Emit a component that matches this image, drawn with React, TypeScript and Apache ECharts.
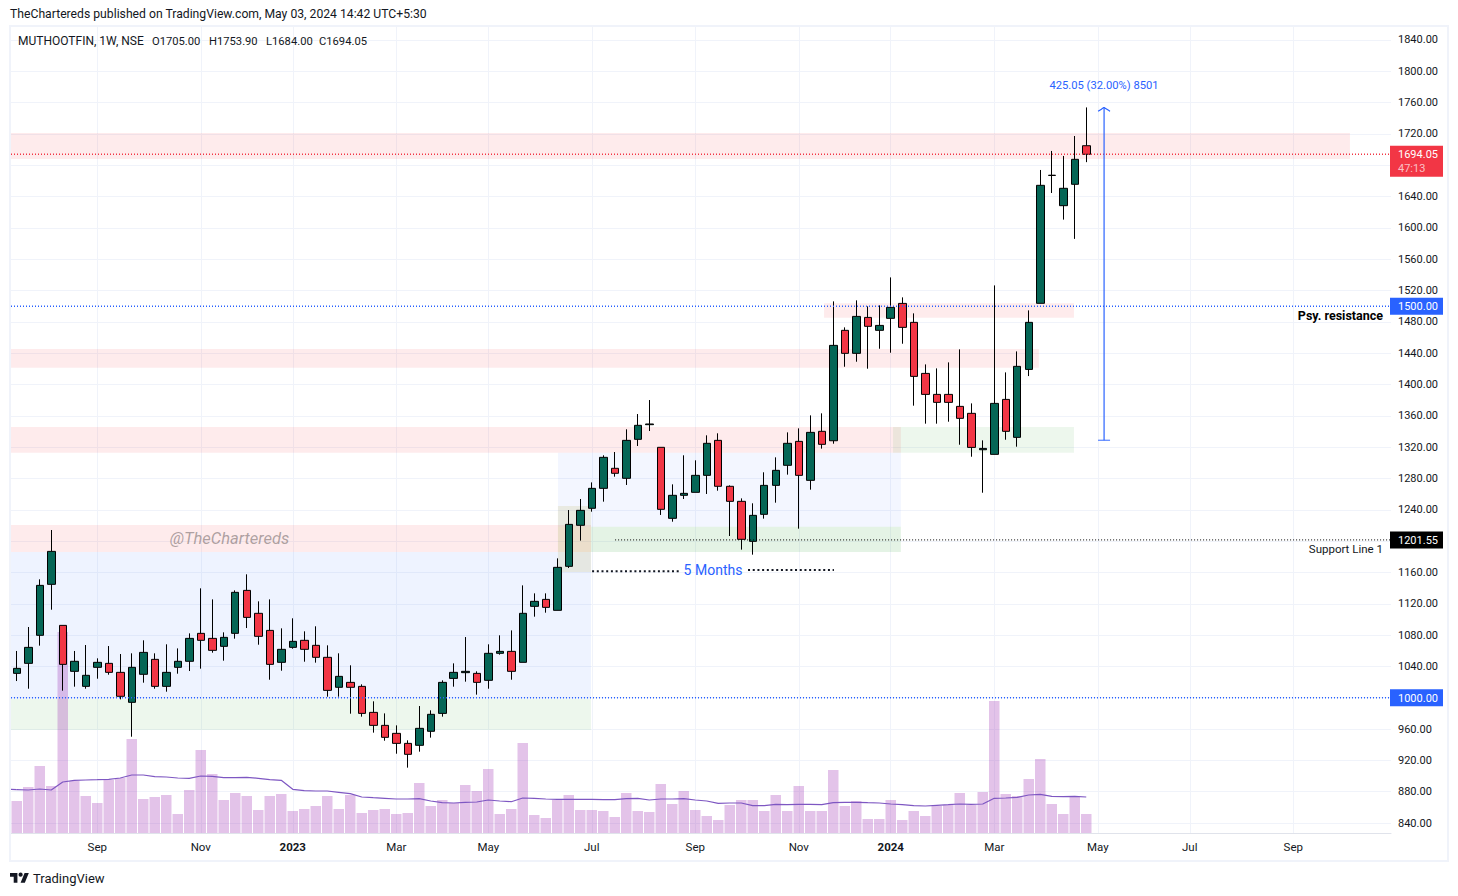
import * as echarts from 'echarts';
import { useEffect, useRef } from 'react';

const FONT = 'Roboto, "Liberation Sans", sans-serif';
const UP = '#056656';
const DOWN = '#f23645';
const BLUE = '#2962ff';
const GRID_LINE = '#f0f3fa';

// week by week
const opens = [
  1031.1, 1043.9, 1079.7, 1144.8, 1092.4, 1033.7, 1014.5, 1038.8, 1043.9, 1032.4, 994.1, 1029.9, 1049, 1014.5, 1038.8, 1046.5,
  1082.2, 1075.8, 1065.6, 1082.2, 1137.1, 1107.8, 1086, 1045.2, 1064.3, 1073.3, 1066.9, 1051.6, 1013.3, 1019.6, 1014.5, 981.3,
  964.7, 954.5, 941.7, 939.2, 957.1, 980, 1024.7, 1032, 1031.1, 1022.2, 1056.7, 1059.2, 1045.2, 1116.7, 1125.6, 1111.6,
  1167.8, 1220.2, 1241.9, 1267.4, 1293, 1280.2, 1330, 1348.7, 1319.8, 1229.1, 1258.5, 1262.3, 1284, 1328.7, 1270, 1250.8,
  1199.7, 1234.2, 1271.2, 1296.8, 1327.4, 1277.6, 1340.2, 1328.2, 1469.2, 1439.8, 1485.7, 1469.2, 1484.5, 1503.6, 1479.4, 1414.2,
  1387.4, 1387.4, 1372.1, 1363.2, 1316.7, 1310.8, 1381, 1332.5, 1419.3, 1503.7, 1667, 1628.4, 1655.7, 1705,
];
const closes = [
  1037.5, 1064.3, 1143.5, 1186.9, 1042.6, 1046.5, 1028.6, 1045.2, 1032.4, 1001.8, 1038.8, 1057.9, 1014.5, 1032.4, 1046.5, 1075.8,
  1073.3, 1060.5, 1077.1, 1134.6, 1102.6, 1078.4, 1042.6, 1061.8, 1072, 1061.8, 1051.6, 1009.4, 1027.3, 1013.3, 980, 964.7,
  949.4, 941.7, 927.7, 960.9, 978.8, 1019.6, 1032.4, 1033.7, 1019.6, 1056.7, 1059.2, 1033.7, 1107.8, 1123.1, 1115.4, 1166.5,
  1221.4, 1239.3, 1267.4, 1307, 1286.6, 1328.7, 1347.9, 1349.6, 1240.6, 1258.5, 1261, 1284, 1324.9, 1270, 1250.8, 1202.3,
  1232.9, 1271.2, 1290.4, 1324.9, 1284, 1338.9, 1323.6, 1450, 1439.8, 1487, 1474.3, 1475.5, 1498.5, 1473, 1410.4, 1387.4,
  1377.2, 1377.2, 1356.8, 1319.7, 1318.4, 1375.9, 1340.2, 1423.2, 1479.4, 1654.4, 1667.3, 1650.6, 1687.6, 1694.05,
];
const lows = [
  1021.3, 1011.5, 1066.5, 1112.4, 1009, 1014.1, 1011.5, 1024.3, 1029.4, 997.9, 950.2, 1019.2, 1011.5, 1007.7, 1030.7, 1034.1,
  1037.1, 1057.5, 1047.3, 1075.4, 1089, 1067.7, 1023, 1034.5, 1062.6, 1046, 1044.8, 1001.3, 1001.3, 979.6, 975.8, 955.4,
  945.1, 928.5, 910.7, 931.1, 949, 975.8, 1014.1, 1020.5, 1003.9, 1011.5, 1055, 1023, 1045.2, 1103.5, 1108.6, 1111.6,
  1165.7, 1200.6, 1237.6, 1250.4, 1282.3, 1271.7, 1321.5, 1340.6, 1233.4, 1224.8, 1253.8, 1262.3, 1260.2, 1264.4, 1206.5, 1189.1,
  1182.7, 1228.7, 1249.1, 1284.9, 1215.9, 1265.7, 1318.1, 1324.4, 1422.7, 1429.1, 1420.2, 1445.7, 1440.6, 1452.1, 1373, 1350,
  1350, 1352.5, 1323.1, 1307.8, 1261.8, 1310.8, 1329.5, 1320.6, 1410.8, 1503.7, 1644.6, 1610.6, 1586, 1684,
];
const highs = [
  1059.7, 1090.3, 1151.2, 1214.2, 1092.4, 1059.7, 1067.3, 1050.3, 1066, 1055.8, 1056.7, 1073.3, 1056.7, 1068.2, 1063, 1082.2,
  1139.7, 1125.6, 1083.5, 1137.1, 1157.6, 1123.1, 1125.6, 1088.6, 1101.4, 1084.8, 1091.2, 1066.9, 1056.7, 1041.4, 1017.1, 995.4,
  980, 964.7, 945.6, 989.4, 983.9, 1022.2, 1043.9, 1077.5, 1033.7, 1068.2, 1079.7, 1086, 1143.5, 1133.3, 1133.3, 1178,
  1239.7, 1253.8, 1275, 1309.6, 1313.8, 1342.8, 1362.3, 1380.2, 1319.8, 1272.5, 1309.6, 1303.2, 1335.1, 1337.7, 1271.2, 1254.6,
  1248.3, 1287.9, 1307, 1338.9, 1344, 1360.6, 1363.2, 1506.2, 1473, 1507.5, 1499.8, 1501.1, 1536.8, 1511.3, 1490.9, 1425.7,
  1420.6, 1428.3, 1444.9, 1375.9, 1328.7, 1526.6, 1415.5, 1442.3, 1494.7, 1674, 1698.3, 1691.9, 1717.4, 1753.9,
];
const volumes = [
  32, 46, 67, 47, 201, 52, 37, 30, 53, 55, 94, 34, 36, 38, 19, 43, 83, 59, 33, 40, 37, 23, 37, 39,
  22, 24, 27, 37, 24, 38, 20, 23, 24, 19, 20, 50, 27, 33, 30, 48, 42, 64, 19, 24, 90, 18, 15, 33,
  38, 23, 23, 22, 16, 40, 22, 21, 49, 29, 42, 23, 17, 13, 28, 33, 33, 22, 38, 22, 47, 22, 22, 63,
  27, 32, 14, 14, 33, 13, 22, 17, 27, 28, 40, 28, 41, 132, 39, 37, 54, 74, 29, 19, 36, 19,
];
const volumeMA = [
  43.3, 43, 44, 43, 51, 52.7, 53, 53.3, 53.7, 55, 58, 58, 56.3, 56, 55, 54.7, 57, 56.7, 55.3, 55.3, 55.7, 54.7, 53.3, 52.7,
  43.7, 42.3, 42, 42, 40.7, 39.3, 36, 35.3, 34.7, 34, 34, 34.3, 32, 30.3, 30, 30.7, 31, 33, 32, 31.3, 35, 34.7, 34, 33.7,
  33.7, 33.7, 33.7, 33.3, 33.3, 34.3, 34.7, 33, 34, 34, 34.3, 33, 32, 29.7, 30, 30, 27.3, 27.3, 28.7, 28.3, 28.7, 28.7, 28.3, 30.3,
  30.7, 30.7, 30.3, 30, 29, 28.3, 27.3, 27, 27.7, 28.3, 29, 28.7, 29, 34.7, 35, 35.7, 38, 38.7, 36.7, 36.3, 36.7, 36,
];
// the average runs in from the bar before the first one on screen
const volumeMALeadIn = [
  [-0.5, 43.7],
  [0, 43.3],
];

const timeTickIndexes = [7, 16, 24, 33, 41, 50, 59, 68, 76, 85, 94, 102, 111];
const timeTickLabels = ['Sep', 'Nov', '2023', 'Mar', 'May', 'Jul', 'Sep', 'Nov', '2024', 'Mar', 'May', 'Jul', 'Sep'];
const SLOTS = 120;
const categories = Array.from({ length: SLOTS }, (_, i) => {
  const at = timeTickIndexes.indexOf(i);
  return at >= 0 ? timeTickLabels[at] : '';
});

const priceGrid = Array.from({ length: 26 }, (_, i) => 840 + i * 40);
// the tags sit on top of these three, so they have a grid line and no label
const priceLabels = priceGrid.filter((p) => ![1000, 1200, 1680].includes(p));

// zones: [from bar, to bar, low price, high price]
const redZones = [
  [-0.5, 115.93, 1688, 1721.2],
  [70.2, 91.93, 1485.3, 1503.7],
  [-0.5, 88.88, 1421.5, 1445.3],
  [-0.5, 76.88, 1312.9, 1345.7],
  [-0.5, 49.93, 1186.1, 1220.6],
];
const greenZones = [
  [-0.5, 49.93, 958.8, 998.4],
  [76.2, 91.93, 1312.9, 1345.7],
];
const strongGreenZones = [[49.93, 76.88, 1186.1, 1218.5]];
const faintGreenZones = [[47.06, 49.93, 1186.1, 1218.5]];
const blueZones = [[-0.5, 49.93, 998.4, 1186.1]];
const paleBlueZones = [[47.06, 76.88, 1218.5, 1312.9]];
const oliveZones = [[47.06, 49.93, 1160.6, 1244.8]];

const tagPrices = [1694.05, 1500, 1201.55, 1000];
const tagLabels = ['1694.05', '1500.00', '1201.55', '1000.00'];
const tagColors = [DOWN, BLUE, '#000000', BLUE];

const measureBar = 94.55;
const measureFrom = 1328.85;
const measureTo = 1753.9;

const zoneSeries = (data: number[][], color: string, z: number) => ({
  type: 'custom',
  xAxisIndex: 1,
  yAxisIndex: 0,
  z,
  silent: true,
  data,
  encode: { x: [0, 1], y: [2, 3] },
  renderItem: (_: any, api: any) => {
    const a = api.coord([api.value(0), api.value(3)]);
    const b = api.coord([api.value(1), api.value(2)]);
    return { type: 'rect', shape: { x: a[0], y: a[1], width: b[0] - a[0], height: b[1] - a[1] }, style: { fill: color } };
  },
});

const levelLine = (data: number[][], color: string, width: number, dash: number[]) => ({
  type: 'line',
  xAxisIndex: 1,
  yAxisIndex: 0,
  z: 5,
  silent: true,
  symbol: 'none',
  data,
  lineStyle: { color, width, type: dash },
});

const text = (x: number, y: number, label: string, color: string, font: string, textAlign = 'left') => ({
  type: 'text',
  x,
  y,
  z: 20,
  silent: true,
  style: { text: label, fill: color, font, textAlign, textVerticalAlign: 'middle', verticalAlign: 'middle' },
});

echarts.graphic.registerShape(
  'tvLogo',
  echarts.graphic.extendPath('M14 22H7V11H0V4h14v18zM28 22h-8l7.5-18h8L28 22zM24 7a4 4 0 1 1-8 0a4 4 0 1 1 8 0z', {}),
);

const App = () => {
  const chartRef = useRef<HTMLDivElement>(null);

  useEffect(() => {
    if (!chartRef.current) return;
    const chart = echarts.init(chartRef.current, undefined, { renderer: 'svg' });

    const option: any = {
      animation: false,
      backgroundColor: '#ffffff',
      grid: { left: 11, top: 27, width: 1380, height: 806 },
      xAxis: [
        {
          type: 'category',
          data: categories,
          boundaryGap: true,
          axisLine: { lineStyle: { color: '#e0e3eb' } },
          axisTick: { show: false },
          axisLabel: {
            interval: (_: number, v: string) => v !== '',
            margin: 8,
            color: '#131722',
            fontFamily: FONT,
            fontSize: 11.5,
            formatter: (v: string) => (/^\d/.test(v) ? `{b|${v}}` : v),
            rich: { b: { fontWeight: 'bold', fontSize: 11.5, fontFamily: FONT, color: '#131722' } },
          },
          splitLine: {
            show: true,
            alignWithLabel: true,
            interval: (_: number, v: string) => v !== '',
            lineStyle: { color: GRID_LINE, width: 1 },
          },
        },
        { type: 'value', min: -0.5, max: SLOTS - 0.5, show: false },
      ],
      yAxis: [
        {
          type: 'value',
          position: 'right',
          min: 827.23,
          max: 1856.6,
          axisLine: { show: false },
          axisTick: { show: false, customValues: priceGrid },
          axisLabel: {
            customValues: priceLabels,
            margin: 7,
            padding: [2, 0, 0, 0],
            color: '#131722',
            fontFamily: FONT,
            fontSize: 11,
            formatter: (v: number) => v.toFixed(2),
          },
          splitLine: { show: true, lineStyle: { color: GRID_LINE, width: 1 } },
        },
        { type: 'value', min: 0, max: 806, show: false, splitLine: { show: false } },
      ],
      series: [
        zoneSeries(blueZones, 'rgba(41,98,255,0.08)', 1),
        zoneSeries(paleBlueZones, 'rgba(41,98,255,0.055)', 1),
        zoneSeries(redZones, 'rgba(242,54,69,0.1)', 1),
        zoneSeries(greenZones, 'rgba(76,175,80,0.1)', 1),
        zoneSeries(strongGreenZones, 'rgba(76,175,80,0.15)', 1),
        zoneSeries(faintGreenZones, 'rgba(76,175,80,0.05)', 1),
        zoneSeries(oliveZones, 'rgba(180,170,60,0.15)', 1),
        {
          type: 'bar',
          xAxisIndex: 0,
          yAxisIndex: 1,
          z: 2,
          barWidth: 10.5,
          data: volumes,
          itemStyle: { color: 'rgba(156,39,176,0.28)' },
        },
        {
          type: 'line',
          xAxisIndex: 0,
          yAxisIndex: 1,
          z: 3,
          symbol: 'none',
          data: volumeMA,
          lineStyle: { color: '#7e57c2', width: 1.2 },
        },
        {
          type: 'line',
          xAxisIndex: 1,
          yAxisIndex: 1,
          z: 3,
          symbol: 'none',
          data: volumeMALeadIn,
          lineStyle: { color: '#7e57c2', width: 1.2 },
        },
        {
          type: 'candlestick',
          xAxisIndex: 0,
          yAxisIndex: 0,
          z: 4,
          barWidth: 8,
          data: opens.map((o, i) => [o, closes[i], lows[i], highs[i]]),
          itemStyle: {
            color: UP,
            color0: DOWN,
            borderColor: '#000000',
            borderColor0: '#000000',
            borderColorDoji: '#000000',
            borderWidth: 1,
          },
        },
        levelLine([[-0.5, 1500], [SLOTS - 0.5, 1500]], BLUE, 1.4, [1, 2]),
        levelLine([[-0.5, 1000], [SLOTS - 0.5, 1000]], BLUE, 1.4, [1, 2]),
        levelLine([[-0.5, 1694.05], [SLOTS - 0.5, 1694.05]], DOWN, 1.4, [1, 2]),
        levelLine([[52.03, 1201.55], [SLOTS - 0.5, 1201.55]], '#000000', 1, [1, 2]),
        levelLine([[50.03, 1161.5], [57.66, 1161.5]], '#131722', 2, [2, 2.7]),
        levelLine([[63.59, 1163], [71.06, 1163]], '#131722', 2, [2, 2.7]),
        levelLine([[measureBar, measureFrom], [measureBar, measureTo]], BLUE, 1.2, [1, 0]),
        levelLine([[measureBar - 0.52, measureFrom], [measureBar + 0.52, measureFrom]], BLUE, 1, [1, 0]),
        levelLine([[measureBar - 0.52, measureTo - 5], [measureBar, measureTo], [measureBar + 0.52, measureTo - 5]], BLUE, 1.2, [1, 0]),
        {
          type: 'custom',
          xAxisIndex: 1,
          yAxisIndex: 0,
          z: 10,
          silent: true,
          clip: false,
          data: tagPrices.map((p) => [0, p]),
          renderItem: (params: any, api: any) => {
            const i = params.dataIndex;
            const y = api.coord([0, api.value(1)])[1];
            const left = params.coordSys.x + params.coordSys.width - 1;
            const isLast = i === 0;
            const children: any[] = [
              {
                type: 'rect',
                shape: { x: left, y: y - 8.5, width: 53, height: isLast ? 31 : 17 },
                style: { fill: tagColors[i] },
              },
              {
                type: 'text',
                style: {
                  text: tagLabels[i],
                  x: left + 8,
                  y: y + 0.5,
                  fill: '#ffffff',
                  font: `11px ${FONT}`,
                  textVerticalAlign: 'middle',
                  verticalAlign: 'middle',
                },
              },
            ];
            if (isLast) {
              children.push({
                type: 'text',
                style: {
                  text: '47:13',
                  x: left + 8,
                  y: y + 14.5,
                  fill: 'rgba(255,255,255,0.7)',
                  font: `11px ${FONT}`,
                  textVerticalAlign: 'middle',
                  verticalAlign: 'middle',
                },
              });
            }
            return { type: 'group', children };
          },
        },
      ],
      graphic: [
        {
          type: 'rect',
          z: 15,
          silent: true,
          shape: { x: 10, y: 26, width: 1438, height: 835 },
          style: { fill: 'none', stroke: GRID_LINE, lineWidth: 2 },
        },
        text(10, 14, 'TheChartereds published on TradingView.com, May 03, 2024 14:42 UTC+5:30', '#131722', `12.2px ${FONT}`),
        text(18, 41, 'MUTHOOTFIN, 1W, NSE', '#131722', `12px ${FONT}`),
        text(152, 41, 'O1705.00', '#131722', `11.2px ${FONT}`),
        text(209, 41, 'H1753.90', '#131722', `11.2px ${FONT}`),
        text(266, 41, 'L1684.00', '#131722', `11.2px ${FONT}`),
        text(319, 41, 'C1694.05', '#131722', `11.2px ${FONT}`),
        text(229.5, 538, '@TheChartereds', 'rgba(120,110,110,0.6)', `italic 16.5px ${FONT}`, 'center'),
        text(713, 570, '5 Months', BLUE, `14px ${FONT}`, 'center'),
        text(1104, 85, '425.05 (32.00%) 8501', BLUE, `11.2px ${FONT}`, 'center'),
        text(1383, 315.5, 'Psy. resistance', '#000000', `bold 12.5px ${FONT}`, 'right'),
        text(1383, 549, 'Support Line 1', '#131722', `11.5px ${FONT}`, 'right'),
        { type: 'tvLogo', x: 10, y: 871, scaleX: 0.53, scaleY: 0.53, z: 20, silent: true, style: { fill: '#131722' } },
        text(33, 878.5, 'TradingView', '#131722', `13px ${FONT}`),
      ],
    };

    chart.setOption(option);

    return () => {
      chart.dispose();
    };
  }, []);

  return <div ref={chartRef} style={{ position: 'absolute', left: 0, top: 0, width: 1458, height: 896 }} />;
};

export default App;
